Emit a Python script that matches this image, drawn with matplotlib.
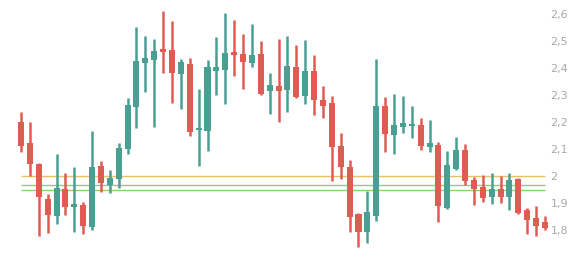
import matplotlib
matplotlib.use("Agg")
import matplotlib.pyplot as plt
import numpy as np
from matplotlib.ticker import FuncFormatter

# OHLC values (60 sessions)
opens = [2.200, 2.122, 2.044, 1.916, 1.853, 1.952, 1.885, 1.893, 1.811, 2.037,
         1.967, 1.990, 2.100, 2.257, 2.419, 2.430, 2.471, 2.467, 2.379, 2.415,
         2.171, 2.168, 2.390, 2.394, 2.459, 2.452, 2.420, 2.452, 2.316, 2.333,
         2.320, 2.405, 2.297, 2.390, 2.281, 2.272, 2.111, 2.034, 1.859, 1.794,
         1.853, 2.259, 2.153, 2.183, 2.186, 2.189, 2.109, 2.115, 1.883, 2.026,
         2.096, 1.985, 1.958, 1.923, 1.951, 1.923, 1.989, 1.873, 1.844, 1.829]
highs = [2.237, 2.200, 2.048, 1.933, 2.081, 2.011, 2.033, 1.904, 2.167, 2.056,
         2.022, 2.122, 2.289, 2.552, 2.519, 2.507, 2.611, 2.574, 2.433, 2.437,
         2.322, 2.430, 2.515, 2.604, 2.578, 2.526, 2.563, 2.500, 2.381, 2.507,
         2.519, 2.485, 2.505, 2.448, 2.333, 2.296, 2.159, 2.059, 1.864, 1.946,
         2.433, 2.293, 2.304, 2.296, 2.259, 2.215, 2.207, 2.125, 2.093, 2.144,
         2.119, 1.996, 2.004, 2.011, 2.000, 2.011, 1.993, 1.880, 1.888, 1.851]
lows = [2.090, 2.001, 1.779, 1.789, 1.822, 1.856, 1.794, 1.785, 1.800, 1.942,
        1.937, 1.957, 2.081, 2.179, 2.312, 2.183, 2.383, 2.271, 2.249, 2.149,
        2.038, 2.094, 2.301, 2.268, 2.371, 2.323, 2.405, 2.301, 2.231, 2.201,
        2.238, 2.289, 2.268, 2.227, 2.216, 1.983, 1.990, 1.794, 1.738, 1.751,
        1.834, 2.090, 2.083, 2.160, 2.142, 2.098, 2.090, 1.831, 1.879, 2.022,
        1.966, 1.894, 1.905, 1.897, 1.901, 1.875, 1.858, 1.786, 1.779, 1.801]
closes = [2.112, 2.044, 1.922, 1.856, 1.956, 1.885, 1.896, 1.816, 2.033, 1.975,
          1.993, 2.104, 2.263, 2.426, 2.438, 2.463, 2.461, 2.383, 2.422, 2.163,
          2.177, 2.404, 2.405, 2.457, 2.449, 2.423, 2.448, 2.305, 2.337, 2.316,
          2.409, 2.293, 2.390, 2.283, 2.261, 2.109, 2.032, 1.849, 1.794, 1.867,
          2.259, 2.157, 2.189, 2.197, 2.194, 2.112, 2.122, 1.890, 2.040, 2.096,
          1.980, 1.953, 1.919, 1.953, 1.923, 1.985, 1.862, 1.838, 1.816, 1.809]

# reference levels
level_orange = 2.0
levels_green = [1.965, 1.947]
tick_values = [1.8, 1.9, 2.0, 2.1, 2.2, 2.3, 2.4, 2.5, 2.6]

UP = "#4a9e92"
DOWN = "#e05c52"


def _fmt(v, _pos=None):
    return f"{v:.1f}".rstrip("0").rstrip(".").replace(".", ",")


fig = plt.figure(figsize=(5.84, 2.58), dpi=100)
ax = fig.add_axes([0, 0, 549 / 584, 1])

idx = np.arange(len(opens))
o = np.array(opens)
c = np.array(closes)
colors = [UP if cc >= oo else DOWN for oo, cc in zip(o, c)]

ax.vlines(idx, lows, highs, colors=colors, linewidth=1.8, zorder=2)
ax.bar(idx, np.maximum(np.abs(c - o), 0.004), bottom=np.minimum(o, c),
       width=0.68, color=colors, linewidth=0, zorder=3)

ax.hlines(level_orange, idx[0], idx[-1], color="#e8c066", linewidth=1.0, zorder=1)
ax.hlines(levels_green, idx[0], idx[-1], color="#8fcf76", linewidth=1.0, zorder=1)

ax.set_xlim(-2.365, 59.45)
ax.set_ylim(1.696, 2.652)
ax.set_xticks([])
ax.yaxis.tick_right()
ax.set_yticks(tick_values)
ax.yaxis.set_major_formatter(FuncFormatter(_fmt))
ax.tick_params(axis="y", length=0, pad=1, labelsize=8, labelcolor="#a8a8a8")
for side in ax.spines.values():
    side.set_visible(False)

fig.savefig("out.png", dpi=100)
